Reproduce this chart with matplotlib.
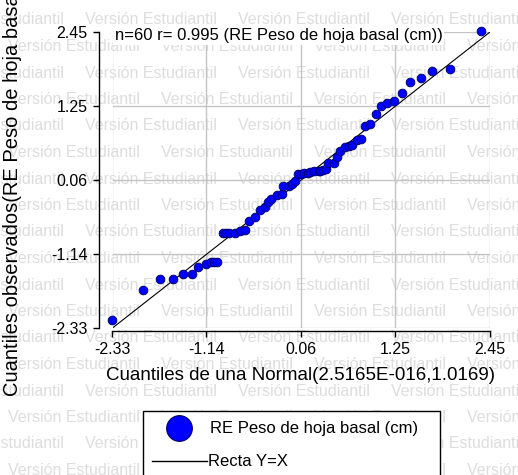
import matplotlib
matplotlib.use("Agg")
import matplotlib.pyplot as plt
from matplotlib.lines import Line2D
from matplotlib.patches import Rectangle

x_teo = [-2.33, -1.95, -1.73, -1.57, -1.44, -1.32, -1.25, -1.15, -1.08, -1.04, -1.01,
         -0.93, -0.89, -0.85, -0.78, -0.72, -0.65, -0.60, -0.53, -0.46, -0.40, -0.36,
         -0.32, -0.25, -0.19, -0.17, -0.10, -0.06, -0.02,
         0.02, 0.06, 0.10, 0.14, 0.17, 0.22, 0.28, 0.30, 0.33, 0.37, 0.40, 0.47, 0.51,
         0.55, 0.61, 0.66, 0.70, 0.76, 0.82, 0.87, 0.93,
         1.01, 1.07, 1.14, 1.24, 1.34, 1.44, 1.57, 1.72, 1.94, 2.33]
y_obs = [-2.20, -1.72, -1.54, -1.54, -1.45, -1.45, -1.35, -1.30, -1.27, -1.27, -1.27,
         -0.80, -0.80, -0.80, -0.79, -0.77, -0.75, -0.61, -0.53, -0.42, -0.37, -0.30,
         -0.24, -0.19, -0.16, -0.03, -0.03, -0.01, 0.05,
         0.15, 0.16, 0.17, 0.18, 0.19, 0.20, 0.21, 0.21, 0.22, 0.24, 0.33, 0.33, 0.43,
         0.53, 0.59, 0.61, 0.62, 0.71, 0.72, 0.94, 0.96,
         1.13, 1.26, 1.31, 1.34, 1.47, 1.64, 1.71, 1.82, 1.85, 2.46]
ticks = [-2.33, -1.14, 0.06, 1.25, 2.45]
tick_labels = ["-2.33", "-1.14", "0.06", "1.25", "2.45"]

W, H = 518, 475
plt.rcParams["font.family"] = ["Liberation Sans", "DejaVu Sans"]

fig = plt.figure(figsize=(W / 100, H / 100), dpi=100)
fig.patch.set_facecolor("white")

# watermark
for k in range(18):
    yy = 20 + 26.5 * k
    start = 85 if k % 2 == 0 else 8
    for n in range(-1, 4):
        fig.text((start + 153 * n) / W, 1 - yy / H, "Versión Estudiantil",
                 fontsize=11.5, color="#dddddd", ha="left", va="center", zorder=-1)

ax = fig.add_axes([112.5 / W, 1 - 328 / H, (490 - 112.5) / W, (328 - 32) / H])
ax.patch.set_alpha(0)
ax.set_xlim(ticks[0], ticks[-1])
ax.set_ylim(ticks[0], ticks[-1])
ax.set_xticks(ticks)
ax.set_xticklabels(tick_labels)
ax.set_yticks(ticks)
ax.set_yticklabels(tick_labels)
ax.grid(True, color="#c4c4c4", lw=1)
ax.set_axisbelow(True)
for s in ["top", "right"]:
    ax.spines[s].set_visible(False)
ax.spines["left"].set_position(("outward", 10))
ax.spines["bottom"].set_position(("outward", 2))
for s in ["left", "bottom"]:
    ax.spines[s].set_color("black")
    ax.spines[s].set_linewidth(1)
ax.tick_params(direction="out", length=4, width=1, pad=4, labelsize=11.5)

ax.plot([ticks[0], ticks[-1]], [ticks[0], ticks[-1]], color="black", lw=0.8, zorder=2)
ax.plot(x_teo, y_obs, "o", ms=6.3, mfc="#0000ff", mec="#000060", mew=0.6,
        clip_on=False, zorder=3)

ax.text(0.006, 0.987, "n=60 r= 0.995 (RE Peso de hoja basal (cm))", transform=ax.transAxes,
        fontsize=12, ha="left", va="center", zorder=4,
        bbox=dict(facecolor="white", edgecolor="none", pad=1))

fig.text(301 / W, 1 - 375 / H, "Cuantiles de una Normal(2.5165E-016,1.0169)",
         fontsize=13.5, ha="center", va="center")
fig.text(13 / W, 1 - 167 / H, "Cuantiles observados(RE Peso de hoja basal (cm))",
         fontsize=14.5, ha="center", va="center", rotation=90)

# legend box
fig.add_artist(Rectangle((143 / W, -0.05), (440 - 143) / W, 0.05 + 1 - 411 / H,
                         transform=fig.transFigure, facecolor="white",
                         edgecolor="black", lw=1))
fig.add_artist(Line2D([179 / W], [1 - 428 / H], marker="o", ms=18.5, mfc="#0000ff",
                      mec="#000060", mew=0.8, transform=fig.transFigure))
fig.text(210 / W, 1 - 428 / H, "RE Peso de hoja basal (cm)", fontsize=12,
         ha="left", va="center")
fig.add_artist(Line2D([152 / W, 207 / W], [1 - 461 / H] * 2, color="black", lw=1,
                      transform=fig.transFigure))
fig.text(208 / W, 1 - 461 / H, "Recta Y=X", fontsize=12, ha="left", va="center")

fig.savefig("out.png", dpi=100)
